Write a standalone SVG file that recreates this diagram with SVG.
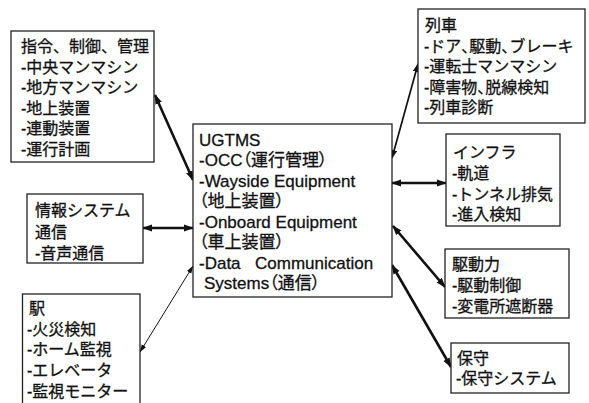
<svg xmlns="http://www.w3.org/2000/svg" width="589" height="403" viewBox="0 0 589 403">
<style>
.box{fill:#fff;stroke:#222;stroke-width:1.3}
text{font-family:"Liberation Sans","Noto Sans CJK JP",sans-serif;font-size:16px;fill:#111;stroke:#111;stroke-width:0.3}
.u{font-size:17px}
.p{font-feature-settings:"palt"}
.c{fill:none;stroke:#111}
.t{stroke-width:2.6;marker-start:url(#ah);marker-end:url(#ah)}
.m{stroke-width:1.7;marker-start:url(#am);marker-end:url(#am)}
.n{stroke-width:1;marker-start:url(#as);marker-end:url(#as)}
</style>
<defs>
<marker id="ah" markerUnits="userSpaceOnUse" markerWidth="10" markerHeight="8" refX="9" refY="4" orient="auto-start-reverse" viewBox="0 0 10 8"><path d="M0,0.5 L10,4 L0,7.5 z" fill="#111"/></marker>
<marker id="am" markerUnits="userSpaceOnUse" markerWidth="9" markerHeight="7" refX="8" refY="3.5" orient="auto-start-reverse" viewBox="0 0 9 7"><path d="M0,0.5 L9,3.5 L0,6.5 z" fill="#111"/></marker>
<marker id="as" markerUnits="userSpaceOnUse" markerWidth="8" markerHeight="6" refX="7.5" refY="3" orient="auto-start-reverse" viewBox="0 0 8 6"><path d="M0,0.5 L8,3 L0,5.5 z" fill="#111"/></marker>
</defs>
<g id="connectors">
<line class="c t" x1="155" y1="95" x2="193" y2="180"/>
<line class="c t" x1="143" y1="228" x2="193" y2="228"/>
<line class="c n" x1="140" y1="352" x2="193" y2="266"/>
<line class="c m" x1="418" y1="64" x2="392" y2="158"/>
<line class="c t" x1="392" y1="183" x2="446" y2="183"/>
<line class="c t" x1="393" y1="226" x2="445" y2="287"/>
<line class="c t" x1="392" y1="265" x2="451" y2="367"/>
</g>
<g id="command">
<rect class="box" x="11" y="31" width="143" height="131"/>
<text x="21" y="52">指令、制御、管理</text>
<text x="21" y="72.5">-中央マンマシン</text>
<text x="21" y="93">-地方マンマシン</text>
<text x="21" y="113.5">-地上装置</text>
<text x="21" y="134">-連動装置</text>
<text x="21" y="154.5">-運行計画</text>
</g>
<g id="info">
<rect class="box" x="27" y="194" width="116" height="69"/>
<text x="35" y="216">情報システム</text>
<text x="35" y="237.5">通信</text>
<text x="35" y="258.5">-音声通信</text>
</g>
<g id="station">
<rect class="box" x="22.5" y="294" width="117.5" height="120"/>
<text x="29" y="314">駅</text>
<text x="27" y="335">-火災検知</text>
<text x="27" y="355">-ホーム監視</text>
<text x="27" y="376">-エレベータ</text>
<text x="27" y="397">-監視モニター</text>
</g>
<g id="ugtms">
<rect class="box" x="193" y="124" width="199" height="173"/>
<text class="u p" x="199" y="145.5">UGTMS</text>
<text class="u p" x="199" y="166">-OCC（運行管理）</text>
<text class="u p" x="199" y="186.5">-Wayside Equipment</text>
<text class="u p" x="199" y="207">（地上装置）</text>
<text class="u p" x="199" y="227.5">-Onboard Equipment</text>
<text class="u p" x="199" y="248">（車上装置）</text>
<text class="u p" x="199" y="268.5">-Data<tspan x="255">Communication</tspan></text>
<text class="u p" x="204" y="289">Systems（通信）</text>
</g>
<g id="train">
<rect class="box" x="418" y="9" width="167" height="114"/>
<text x="425" y="31">列車</text>
<text x="424" y="51.5">-ドア<tspan class="p">、</tspan>駆動<tspan class="p">、</tspan>ブレーキ</text>
<text x="424" y="72">-運転士マンマシン</text>
<text x="424" y="92.5">-障害物<tspan class="p">、</tspan>脱線検知</text>
<text x="424" y="113">-列車診断</text>
</g>
<g id="infra">
<rect class="box" x="446" y="134" width="114" height="92"/>
<text x="453" y="158">インフラ</text>
<text x="452" y="179">-軌道</text>
<text x="452" y="199.5">-トンネル排気</text>
<text x="452" y="220">-進入検知</text>
</g>
<g id="power">
<rect class="box" x="445" y="249" width="124" height="69"/>
<text x="452" y="270">駆動力</text>
<text x="452" y="291">-駆動制御</text>
<text x="452" y="312">-変電所遮断器</text>
</g>
<g id="maintenance">
<rect class="box" x="451" y="343" width="118" height="50"/>
<text x="457" y="364">保守</text>
<text x="456" y="384">-保守システム</text>
</g>
</svg>
